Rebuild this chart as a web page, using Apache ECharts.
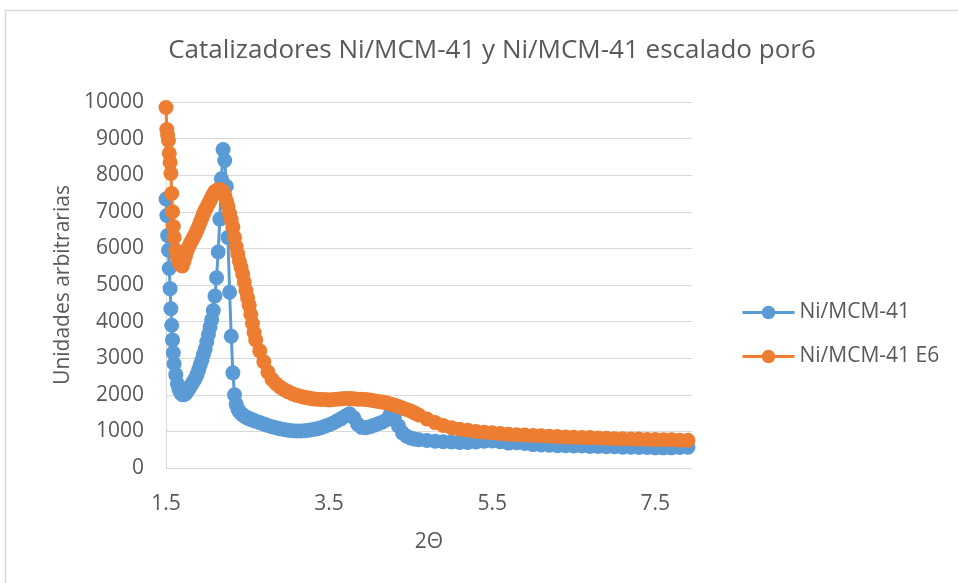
<!DOCTYPE html>
<html>
<head>
<meta charset="utf-8">
<script src="https://cdn.jsdelivr.net/npm/echarts@6/dist/echarts.min.js"></script>
<style>html,body{margin:0;padding:0;background:#fff;}#c{width:958px;height:583px;}</style>
</head>
<body>
<div id="c"></div>
<script>
var titleText = 'Catalizadores Ni/MCM-41 y Ni/MCM-41 escalado por6';
var xName = '2Θ';
var yName = 'Unidades arbitrarias';
var seriesNames = ['Ni/MCM-41', 'Ni/MCM-41 E6'];
var xTicks = [1.5, 3.5, 5.5, 7.5];

var twoTheta = [
 1.50,1.51,1.52,1.53,1.54,1.55,1.56,1.57,1.58,1.59,1.60,
 1.62,1.64,1.66,1.68,1.70,1.72,1.74,1.76,1.78,1.80,
 1.82,1.84,1.86,1.88,1.90,1.92,1.94,1.96,1.98,2.00,
 2.02,2.04,2.06,2.08,2.10,2.12,2.14,2.16,2.18,2.20,
 2.22,2.24,2.26,2.28,2.30,2.32,2.34,2.36,2.38,2.40,
 2.42,2.44,2.46,2.48,2.50,2.52,2.54,2.56,2.58,2.60,
 2.65,2.70,2.75,2.80,2.85,2.90,2.95,3.00,3.05,3.10,
 3.15,3.20,3.25,3.30,3.35,3.40,3.45,3.50,3.55,3.60,
 3.65,3.70,3.75,3.80,3.85,3.90,3.95,4.00,4.05,4.10,
 4.15,4.20,4.25,4.30,4.35,4.40,4.45,4.50,4.55,4.60,
 4.7,4.8,4.9,5.0,5.1,5.2,5.3,5.4,5.5,5.6,
 5.7,5.8,5.9,6.0,6.1,6.2,6.3,6.4,6.5,6.6,
 6.7,6.8,6.9,7.0,7.1,7.2,7.3,7.4,7.5,7.6,
 7.7,7.8,7.9
];

var niMCM = [
 7350,6900,6350,5950,5450,4900,4350,3900,3500,3150,2850,
 2550,2300,2150,2050,2000,2000,2030,2100,2160,2230,
 2300,2380,2450,2550,2680,2820,2950,3100,3250,3450,
 3650,3850,4050,4300,4700,5200,5900,6800,7900,8700,
 8400,7700,6300,4800,3600,2600,2000,1750,1620,1540,
 1490,1450,1420,1390,1370,1350,1330,1310,1300,1280,
 1240,1200,1160,1130,1100,1070,1050,1030,1020,1010,
 1010,1020,1030,1050,1070,1100,1140,1180,1230,1290,
 1350,1420,1480,1380,1200,1110,1100,1130,1170,1210,
 1250,1310,1460,1380,1150,960,870,820,790,770,
 750,730,720,710,700,700,710,730,740,720,
 680,690,670,640,630,620,610,610,600,600,
 590,590,580,580,570,570,560,560,550,550,
 550,560,570
];

var niMCM_E6 = [
 9850,9250,9100,8950,8600,8350,8050,7500,7000,6600,6300,
 5950,5750,5620,5550,5520,5650,5800,5950,6050,6150,
 6230,6320,6400,6500,6600,6720,6830,6950,7050,7130,
 7220,7300,7400,7480,7550,7580,7600,7600,7580,7550,
 7450,7300,7150,6950,6780,6580,6300,6050,5850,5650,
 5480,5300,5080,4850,4650,4450,4200,3950,3700,3500,
 3200,2900,2620,2420,2300,2210,2140,2080,2030,1990,
 1960,1930,1910,1890,1880,1870,1870,1860,1870,1880,
 1890,1900,1900,1890,1880,1880,1870,1860,1840,1820,
 1800,1780,1750,1720,1680,1640,1600,1560,1500,1450,
 1340,1240,1160,1100,1060,1030,1000,980,960,940,
 920,910,900,890,880,870,860,850,840,830,
 830,820,810,800,800,790,790,780,780,770,
 770,760,760
];

function pairs(xs, ys){ var out=[]; for(var i=0;i<xs.length;i++){ out.push([xs[i], ys[i]]); } return out; }

var FONT = '"Open Sans", sans-serif';
var TXT = '#595959';
var chart = echarts.init(document.getElementById('c'), null, {renderer:'canvas'});
chart.setOption({
  animation: false,
  backgroundColor: '#ffffff',
  title: {
    text: titleText,
    left: 487, top: 33, textAlign: 'center',
    textStyle: {fontFamily: FONT, fontSize: 26, fontWeight: 'normal', color: TXT}
  },
  graphic: [{
    type: 'rect', silent: true,
    shape: {x: 5.5, y: 10.5, width: 1200, height: 1200},
    style: {fill: 'none', stroke: '#D9D9D9', lineWidth: 1.5}
  }],
  legend: {
    orient: 'vertical', left: 736, top: 297,
    itemWidth: 52, itemHeight: 17, itemGap: 23,
    lineStyle: {width: 3},
    textStyle: {fontFamily: FONT, fontSize: 21, color: TXT, lineHeight: 21},
    data: seriesNames
  },
  grid: {left: 166, right: 266, top: 102, bottom: 115, containLabel: false},
  xAxis: {
    type: 'value', min: 1.5, max: 7.95, interval: 2,
    name: xName, nameLocation: 'middle', nameGap: 64,
    nameTextStyle: {fontFamily: FONT, fontSize: 21, color: TXT},
    axisLine: {show: true, lineStyle: {color: '#D9D9D9', width: 1}},
    axisTick: {show: false},
    splitLine: {show: false},
    axisLabel: {
      fontFamily: FONT, fontSize: 21, color: TXT, margin: 26,
      showMaxLabel: false,
      formatter: function(v){ return xTicks.indexOf(Math.round(v*100)/100) >= 0 ? v.toFixed(1) : ''; }
    }
  },
  yAxis: {
    type: 'value', min: 0, max: 10000, interval: 1000,
    name: yName, nameLocation: 'middle', nameGap: 68, nameRotate: 90,
    nameTextStyle: {fontFamily: FONT, fontSize: 21, color: TXT},
    axisLine: {show: true, lineStyle: {color: '#D9D9D9', width: 1}},
    axisTick: {show: false},
    splitLine: {show: true, lineStyle: {color: '#D9D9D9', width: 1}},
    axisLabel: {fontFamily: FONT, fontSize: 21, color: TXT, margin: 22,
      formatter: function(v){ return String(v); }}
  },
  series: [
    {
      name: seriesNames[0], type: 'line', data: pairs(twoTheta, niMCM),
      symbol: 'circle', symbolSize: 15, showAllSymbol: true,
      lineStyle: {color: '#5B9BD5', width: 3},
      itemStyle: {color: '#5B9BD5', borderWidth: 0},
      z: 2
    },
    {
      name: seriesNames[1], type: 'line', data: pairs(twoTheta, niMCM_E6),
      symbol: 'circle', symbolSize: 15, showAllSymbol: true,
      lineStyle: {color: '#ED7D31', width: 3},
      itemStyle: {color: '#ED7D31', borderWidth: 0},
      z: 3
    }
  ]
});
</script>
</body>
</html>
